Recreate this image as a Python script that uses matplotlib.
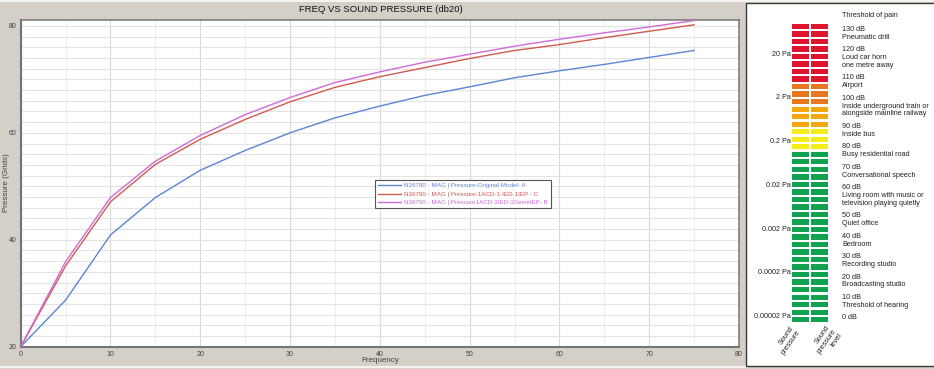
import matplotlib
matplotlib.use("Agg")
import matplotlib.pyplot as plt
from matplotlib.patches import Rectangle

plt.rcParams['font.family'] = ['Liberation Sans', 'DejaVu Sans']

# --- chart data ---
freq = [0, 5, 10, 15, 20, 25, 30, 35, 40, 45, 50, 55, 60, 65, 70, 75]
press_orig_a = [20, 28.7, 40.9, 47.9, 53.0, 56.7, 60.0, 62.8, 65.0, 67.0, 68.6, 70.3, 71.6, 72.8, 74.1, 75.4]
press_1acd_c = [20, 35.1, 47.1, 54.1, 58.8, 62.5, 65.8, 68.5, 70.5, 72.2, 73.9, 75.4, 76.5, 77.8, 79.0, 80.2]
press_3acd_b = [20, 35.9, 47.9, 54.7, 59.5, 63.4, 66.6, 69.4, 71.4, 73.2, 74.7, 76.2, 77.5, 78.7, 79.8, 81.0]
series_labels = [
    "N26790 - MAG | Pressure-Original Model- A",
    "N36790 - MAG | Pressure-1ACD-1-IED-1IEP - C",
    "N36790 - MAG | Pressure1ACD-3IED-3SemelEP- B",
]
series_colors = ['#5b85d6', '#cf5b50', '#d06ad8']

# --- sound pressure scale panel ---
band_colors = ['#e0142c', '#e8771e', '#f2a60a', '#f6ec16', '#10a24e']
band_rows = [8, 3, 3, 3, 23]
pa_labels = ['20 Pa', '2 Pa', '0.2 Pa', '0.02 Pa', '0.002 Pa', '0.0002 Pa', '0.00002 Pa']
db_blocks = [
    ("130 dB", ["Pneumatic drill"]),
    ("120 dB", ["Loud car horn", "one metre away"]),
    ("110 dB", ["Airport"]),
    ("100 dB", ["Inside underground train or", "alongside mainline railway"]),
    ("90 dB", ["Inside bus"]),
    ("80 dB", ["Busy residential road"]),
    ("70 dB", ["Conversational speech"]),
    ("60 dB", ["Living room with music or", "television playing quietly"]),
    ("50 dB", ["Quiet office"]),
    ("40 dB", ["Bedroom"]),
    ("30 dB", ["Recording studio"]),
    ("20 dB", ["Broadcasting studio"]),
    ("10 dB", ["Threshold of hearing"]),
    ("0 dB", []),
]

W, H = 934, 369
BG = '#d4d0c8'
PANEL_FS = 5.2


def fx(px):
    return px / W


def fy(py):
    return 1 - py / H


fig = plt.figure(figsize=(W / 100, H / 100), dpi=100, facecolor=BG)

# --- main chart ---
left, right, top, bottom = 20.7, 739, 20, 346.7
ax = fig.add_axes([fx(left), fy(bottom), fx(right - left), (bottom - top) / H])
ax.set_facecolor('white')

for ys, lab, col in zip([press_orig_a, press_1acd_c, press_3acd_b], series_labels, series_colors):
    ax.plot(freq, ys, color=col, lw=1.0, label=lab, clip_on=False, zorder=3)

ax.set_xlim(0, 80)
ax.set_ylim(20, 81.1)
ax.set_xticks(range(0, 81, 10))
ax.set_xticks(range(5, 80, 10), minor=True)
ax.set_yticks([20, 40, 60, 80])
ax.set_yticks(range(22, 81, 2), minor=True)
ax.tick_params(which='both', length=0, labelsize=5, colors='#404040', pad=3)
ax.grid(which='major', axis='x', color='#d9d9d9', lw=0.8)
ax.grid(which='minor', axis='x', color='#eeeeee', lw=0.8)
ax.grid(which='both', axis='y', color='#e3e3e3', lw=0.8)
ax.set_axisbelow(True)
for side, sp in ax.spines.items():
    sp.set_color('#757575')
    sp.set_linewidth(1.5 if side in ('left', 'bottom') else 1.1)

leg = ax.legend(loc='upper left', bbox_to_anchor=(fx(375), fy(180)), bbox_transform=fig.transFigure,
                fontsize=4.5, labelcolor='linecolor', fancybox=False, framealpha=1,
                edgecolor='#555555', handlelength=3.7, handletextpad=0.4,
                labelspacing=0.45, borderpad=0.5, borderaxespad=0)
leg.get_frame().set_linewidth(0.8)

fig.text(fx(381), fy(9), "FREQ VS SOUND PRESSURE (db20)", ha='center', va='center', fontsize=6.8, color='#111111')
fig.text(fx(380), fy(361), "Frequency", ha='center', va='center', fontsize=5.8, color='#404040')
fig.text(fx(7), fy(183), "Pressure (Grids)", ha='center', va='center', rotation=90, fontsize=5.8, color='#404040')

# thin light lines on the window edges
fig.add_artist(plt.Line2D([0, fx(745)], [fy(366.5)] * 2, color='#f4f3ef', lw=1.5))
fig.add_artist(plt.Line2D([0, 1], [fy(1)] * 2, color='#f4f3ef', lw=1.5))

# --- right panel, drawn in pixel coordinates ---
pan = fig.add_axes([fx(745), 0, fx(W - 745), 1])
pan.set_xlim(745, W)
pan.set_ylim(H, 0)
pan.axis('off')
pan.add_patch(Rectangle((745.5, 3), 190, 363, facecolor='white', edgecolor='#3a3a3a', lw=1.0))

row_colors = [c for c, n in zip(band_colors, band_rows) for _ in range(n)]
row_top, row_pitch, row_h = 23.8, 7.52, 5.3
for i, c in enumerate(row_colors):
    y = row_top + i * row_pitch
    for x0 in (791.7, 811.0):
        pan.add_patch(Rectangle((x0, y), 17.3, row_h, facecolor=c, edgecolor='none'))

for k, lab in enumerate(pa_labels):
    pan.text(790.5, 54 + k * 43.8, lab, ha='right', va='center', fontsize=PANEL_FS, color='#222222')

txt_x = 842
pan.text(txt_x, 15.7, "Threshold of pain", ha='left', va='center', fontsize=PANEL_FS, color='#222222')
y = 29.3
for db, desc in db_blocks:
    pan.text(txt_x, y, db, ha='left', va='center', fontsize=PANEL_FS, color='#222222')
    for j, line in enumerate(desc):
        pan.text(txt_x, y + (j + 1) * 7.8, line, ha='left', va='center', fontsize=PANEL_FS, color='#222222')
    y += (len(desc) + 1) * 7.8 + 4.8

pan.text(790, 325, "Sound\npressure", ha='right', va='top', rotation=55, rotation_mode='anchor',
         multialignment='right', fontsize=PANEL_FS, color='#222222', linespacing=1.05)
pan.text(826, 324, "Sound\npressure\nlevel", ha='right', va='top', rotation=55, rotation_mode='anchor',
         multialignment='right', fontsize=PANEL_FS, color='#222222', linespacing=1.05)

fig.savefig("out.png", dpi=100, facecolor=BG)
